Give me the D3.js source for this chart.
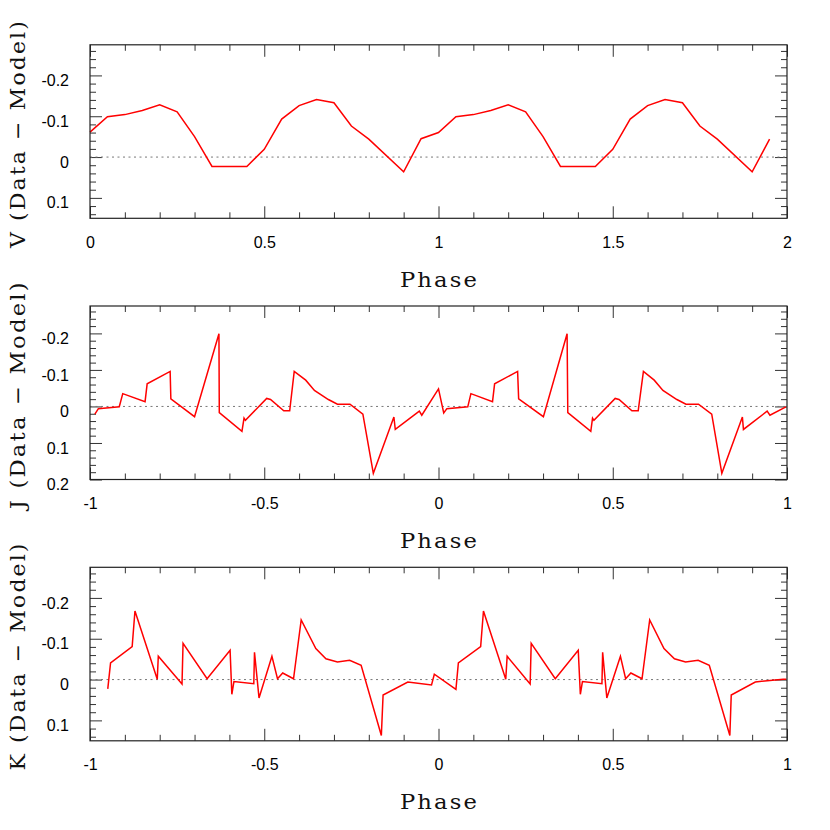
<!DOCTYPE html>
<html>
<head>
<meta charset="utf-8">
<script src="https://cdn.jsdelivr.net/npm/d3@7"></script>
<style>
  body { margin: 0; background: #fff; }
  .tick text { font-family: "Liberation Sans", Arial, sans-serif; font-size: 16px; fill: #000; }
  .title { font-family: "DejaVu Serif", "Liberation Serif", serif; font-size: 21px; fill: #111; letter-spacing: 2px; }
</style>
</head>
<body>
<div class="chart"></div>
<script>
// V band: two cycles, phase 0 .. 1.95
var vPhase = [0, 0.05, 0.10, 0.15, 0.20, 0.25, 0.30, 0.35, 0.45, 0.50, 0.55, 0.60, 0.65, 0.70, 0.75, 0.80, 0.90, 0.95,
              1.00, 1.05, 1.10, 1.15, 1.20, 1.25, 1.30, 1.35, 1.45, 1.50, 1.55, 1.60, 1.65, 1.70, 1.75, 1.80, 1.90, 1.95];
var vResid = [-0.061, -0.099, -0.104, -0.114, -0.128, -0.111, -0.050, 0.023, 0.023, -0.019, -0.093, -0.126, -0.141, -0.133, -0.076, -0.044, 0.036, -0.045,
              -0.060, -0.099, -0.104, -0.114, -0.128, -0.111, -0.050, 0.023, 0.023, -0.019, -0.093, -0.126, -0.141, -0.133, -0.076, -0.044, 0.036, -0.044];

// J band, phase -1 .. 1
var jPhase = [-0.986, -0.976, -0.916, -0.906, -0.842, -0.836, -0.770, -0.768, -0.700, -0.630, -0.629, -0.564, -0.558, -0.554, -0.493, -0.482,
              -0.444, -0.427, -0.414, -0.381, -0.356, -0.316, -0.290, -0.254, -0.217, -0.187, -0.128, -0.124, -0.055, -0.048, 0.0,
              0.015, 0.024, 0.084, 0.093, 0.155, 0.161, 0.227, 0.230, 0.301, 0.369, 0.371, 0.437, 0.442, 0.446, 0.507, 0.518,
              0.555, 0.573, 0.588, 0.619, 0.644, 0.684, 0.710, 0.746, 0.784, 0.813, 0.872, 0.875, 0.943, 0.951, 0.997];
var jResid = [0.021, 0.006, 0.001, -0.035, -0.013, -0.062, -0.096, -0.021, 0.028, -0.199, 0.017, 0.068, 0.032, 0.038, -0.022, -0.019,
              0.012, 0.012, -0.096, -0.072, -0.044, -0.019, -0.006, -0.006, 0.021, 0.183, 0.029, 0.063, 0.013, 0.024, -0.048,
              0.018, 0.006, 0.001, -0.035, -0.013, -0.062, -0.096, -0.021, 0.028, -0.199, 0.017, 0.068, 0.032, 0.038, -0.022, -0.019,
              0.012, 0.012, -0.096, -0.072, -0.044, -0.019, -0.006, -0.006, 0.021, 0.183, 0.029, 0.063, 0.013, 0.024, 0.001];

// K band, phase -1 .. 1
var kPhase = [-0.949, -0.941, -0.879, -0.871, -0.807, -0.804, -0.736, -0.733, -0.664, -0.598, -0.593, -0.587, -0.530, -0.528, -0.515, -0.478,
              -0.462, -0.447, -0.416, -0.394, -0.352, -0.323, -0.290, -0.255, -0.222, -0.164, -0.159, -0.088, -0.020, -0.012,
              0.050, 0.057, 0.121, 0.129, 0.193, 0.197, 0.263, 0.266, 0.335, 0.401, 0.407, 0.413, 0.469, 0.471, 0.483, 0.522,
              0.537, 0.552, 0.584, 0.606, 0.647, 0.677, 0.709, 0.745, 0.777, 0.836, 0.840, 0.909, 0.989, 0.998];
var kResid = [0.023, -0.041, -0.081, -0.168, -0.001, -0.057, 0.011, -0.089, -0.002, -0.072, 0.036, 0.005, 0.010, -0.067, 0.045, -0.057,
              -0.002, -0.016, -0.002, -0.146, -0.076, -0.051, -0.043, -0.047, -0.035, 0.137, 0.038, 0.006, 0.013, -0.013,
              0.024, -0.041, -0.081, -0.168, -0.001, -0.057, 0.011, -0.089, -0.002, -0.072, 0.036, 0.005, 0.010, -0.067, 0.045, -0.057,
              -0.002, -0.016, -0.002, -0.146, -0.076, -0.051, -0.043, -0.047, -0.035, 0.137, 0.038, 0.006, -0.001, -0.001];

var bands = ['V', 'J', 'K'];
var xDomains = [[0, 2], [-1, 1], [-1, 1]];
var yDomains = [[0.15, -0.275], [0.2, -0.275], [0.15, -0.275]];
var yMajor = [[-0.2, -0.1, 0, 0.1], [-0.2, -0.1, 0, 0.1, 0.2], [-0.2, -0.1, 0, 0.1]];
var xMajor = [[0, 0.5, 1, 1.5, 2], [-1, -0.5, 0, 0.5, 1], [-1, -0.5, 0, 0.5, 1]];
var series = [[vPhase, vResid], [jPhase, jResid], [kPhase, kResid]];

var W = 830, H = 830;
var left = 90, right = 787;
var plotH = 173.5;
var tops = [44.8, 306, 567.3];

var svg = d3.select('.chart')
  .append('svg')
    .attr('width', W)
    .attr('height', H);

function r2(v) { return Math.round(v * 1000) / 1000; }
function fmt(d) { return String(d); }

// wide serif titles: stretch the glyphs horizontally to the target length
function wideText(sel, transform, target) {
  var len = sel.node().getComputedTextLength() - 2;
  sel.attr('transform', transform + ' scale(' + (target / len) + ',1)');
}

bands.forEach(function(band, i) {
  var top = tops[i], bottom = top + plotH;
  var xd = xDomains[i], yd = yDomains[i];

  var x = d3.scaleLinear().domain(xd).range([left, right]);
  var y = d3.scaleLinear().domain(yd).range([bottom, top]);

  var xMinor = d3.range(Math.round(xd[0] * 10), Math.round(xd[1] * 10) + 1)
    .map(function(d) { return r2(d / 10); })
    .filter(function(d) { return xMajor[i].indexOf(d) < 0; });
  var yMinor = d3.range(-13, Math.floor(yd[0] * 50 + 1e-6) + 1)
    .map(function(d) { return r2(d / 50); })
    .filter(function(d) { return yMajor[i].indexOf(d) < 0; });

  var g = svg.append('g');

  // inward ticks on all four sides
  function addAxis(axis, tx, ty, labels) {
    var a = g.append('g')
      .attr('transform', 'translate(' + tx + ',' + ty + ')')
      .call(axis);
    a.select('.domain').remove();
    a.selectAll('line').attr('stroke', '#333');
    if (!labels) a.selectAll('text').remove();
    return a;
  }

  addAxis(d3.axisBottom(x).tickValues(xMinor).tickSize(-6), 0, bottom, false);
  addAxis(d3.axisTop(x).tickValues(xMinor).tickSize(-6), 0, top, false);
  addAxis(d3.axisTop(x).tickValues(xMajor[i]).tickSize(-12), 0, top, false);
  addAxis(d3.axisBottom(x).tickValues(xMajor[i]).tickSize(-12).tickPadding(18).tickFormat(fmt), 0, bottom, true);

  addAxis(d3.axisLeft(y).tickValues(yMinor).tickSize(-6), left, 0, false);
  addAxis(d3.axisRight(y).tickValues(yMinor).tickSize(-6), right, 0, false);
  addAxis(d3.axisRight(y).tickValues(yMajor[i]).tickSize(-12), right, 0, false);
  addAxis(d3.axisLeft(y).tickValues(yMajor[i]).tickSize(-12).tickPadding(21).tickFormat(fmt), left, 0, true)
    .selectAll('text').attr('dy', '0.63em');

  // zero line
  g.append('line')
    .attr('x1', x(xd[0]))
    .attr('x2', x(xd[1]))
    .attr('y1', y(0))
    .attr('y2', y(0))
    .attr('stroke', '#777')
    .attr('stroke-width', 1)
    .attr('stroke-dasharray', '2,3.5');

  var pts = series[i][0].map(function(p, k) { return [p, series[i][1][k]]; });
  g.append('path')
    .datum(pts)
    .attr('fill', 'none')
    .attr('stroke', '#ff0000')
    .attr('stroke-width', 1.5)
    .attr('stroke-linejoin', 'miter')
    .attr('d', d3.line()
      .x(function(d) { return x(d[0]); })
      .y(function(d) { return y(d[1]); }));

  // frame
  g.append('rect')
    .attr('x', left)
    .attr('y', top)
    .attr('width', right - left)
    .attr('height', plotH)
    .attr('fill', 'none')
    .attr('stroke', '#222')
    .attr('stroke-width', 1.2);

  var xt = g.append('text')
    .attr('class', 'title')
    .attr('text-anchor', 'middle')
    .text('Phase');
  wideText(xt, 'translate(' + ((left + right) / 2 + 1) + ',' + (bottom + 68.5) + ')', 77);

  var yt = g.append('text')
    .attr('class', 'title')
    .attr('text-anchor', 'middle')
    .text(band + ' (Data \u2212 Model)');
  wideText(yt, 'translate(25,' + (top + plotH / 2 + 2) + ') rotate(-90)', 227);
});
</script>
</body>
</html>
